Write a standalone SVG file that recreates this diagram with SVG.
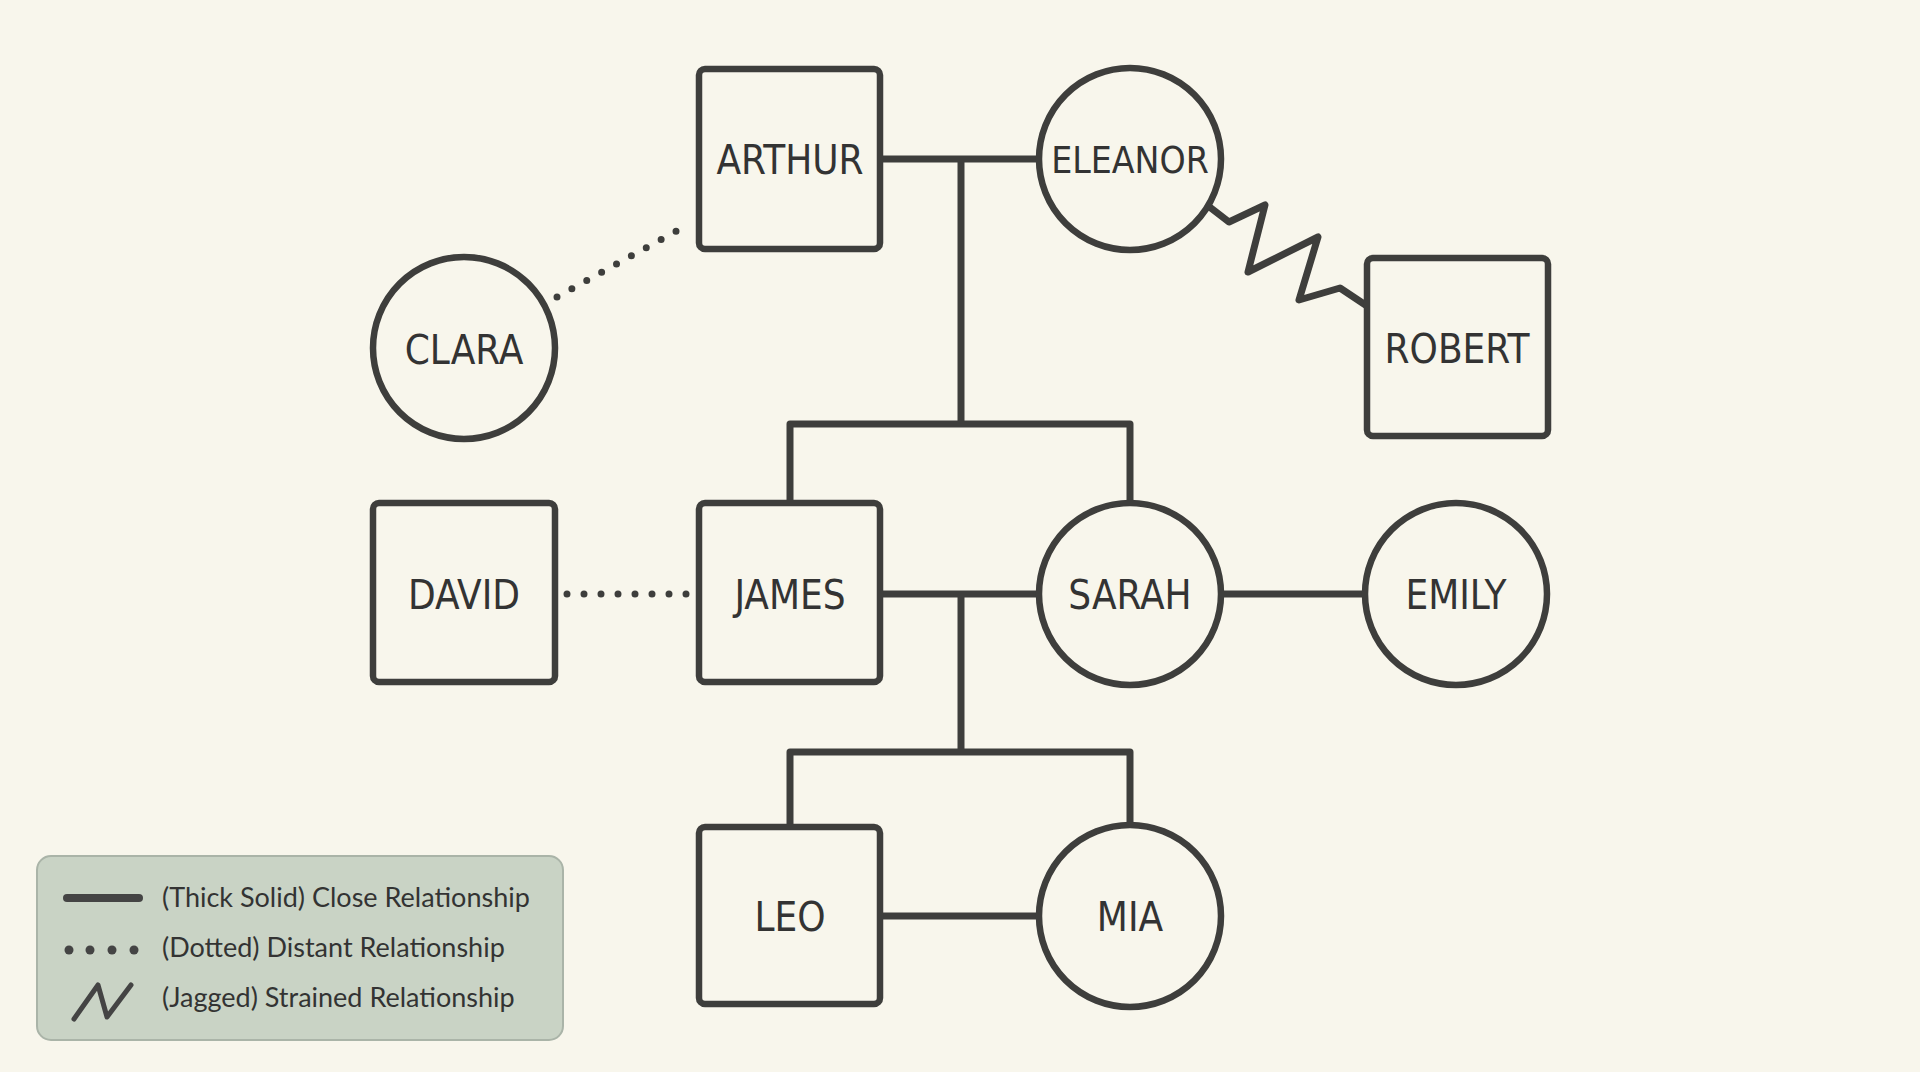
<svg xmlns="http://www.w3.org/2000/svg" width="1920" height="1072" viewBox="0 0 1920 1072">
<style>
.n{fill:#f8f6ec;stroke:#3e3e3c;stroke-width:6.5}
.t{font-family:"DejaVu Sans Condensed","DejaVu Sans",sans-serif;font-stretch:condensed;font-size:40px;fill:#333;text-anchor:middle;dominant-baseline:central}
.c{fill:none;stroke:#3e3e3c;stroke-width:7;stroke-linejoin:round}
.d{fill:none;stroke:#3e3e3c;stroke-width:7;stroke-linecap:round;stroke-dasharray:0 17}
.l{font-family:Lato,"Open Sans",sans-serif;font-size:27px;fill:#333}
</style>
<rect width="1920" height="1072" fill="#f8f6ec"/>
<g id="connectors">
<path class="c" d="M880 159H1039M961 159V424M790 503V424H1130V503"/>
<path class="c" d="M880 594H1039M961 594V752M790 827V752H1130V825"/>
<path class="c" d="M1221 594H1365M880 916H1039"/>
<path class="d" d="M557 297L689 224"/>
<path class="d" d="M567 594H687"/>
<path class="c" d="M1207 205L1229 222L1265 205L1248 272L1318 237L1299 300L1340 288L1367 306"/>
</g>
<g id="arthur"><rect class="n" x="699" y="69" width="181" height="180" rx="6"/><text class="t" x="790" y="160">ARTHUR</text></g>
<g id="eleanor"><circle class="n" cx="1130" cy="159" r="91"/><text class="t" x="1130" y="160" style="font-size:37px">ELEANOR</text></g>
<g id="clara"><circle class="n" cx="464" cy="348" r="91"/><text class="t" x="464" y="350">CLARA</text></g>
<g id="robert"><rect class="n" x="1367" y="258" width="181" height="178" rx="6"/><text class="t" x="1457" y="349">ROBERT</text></g>
<g id="david"><rect class="n" x="373" y="503" width="182" height="179" rx="6"/><text class="t" x="464" y="595">DAVID</text></g>
<g id="james"><rect class="n" x="699" y="503" width="181" height="179" rx="6"/><text class="t" x="790" y="595">JAMES</text></g>
<g id="sarah"><circle class="n" cx="1130" cy="594" r="91"/><text class="t" x="1130" y="595">SARAH</text></g>
<g id="emily"><circle class="n" cx="1456" cy="594" r="91"/><text class="t" x="1456" y="595">EMILY</text></g>
<g id="leo"><rect class="n" x="699" y="827" width="181" height="177" rx="6"/><text class="t" x="790" y="917">LEO</text></g>
<g id="mia"><circle class="n" cx="1130" cy="916" r="91"/><text class="t" x="1130" y="917">MIA</text></g>
<g id="legend">
<rect x="37" y="856" width="526" height="184" rx="14" fill="#c9d3c5" stroke="#aab4a8" stroke-width="2"/>
<line x1="67" y1="898" x2="139" y2="898" stroke="#444" stroke-width="8" stroke-linecap="round"/>
<g fill="#444"><circle cx="69" cy="950" r="4.5"/><circle cx="90" cy="950" r="4.5"/><circle cx="112" cy="950" r="4.5"/><circle cx="134" cy="950" r="4.5"/></g>
<path d="M74 1019L98 985L107 1017L131 985" fill="none" stroke="#444" stroke-width="5" stroke-linecap="round" stroke-linejoin="round"/>
<text class="l" x="162" y="907">(Thick Solid) Close Relationship</text>
<text class="l" x="162" y="957">(Dotted) Distant Relationship</text>
<text class="l" x="162" y="1007">(Jagged) Strained Relationship</text>
</g>
</svg>
